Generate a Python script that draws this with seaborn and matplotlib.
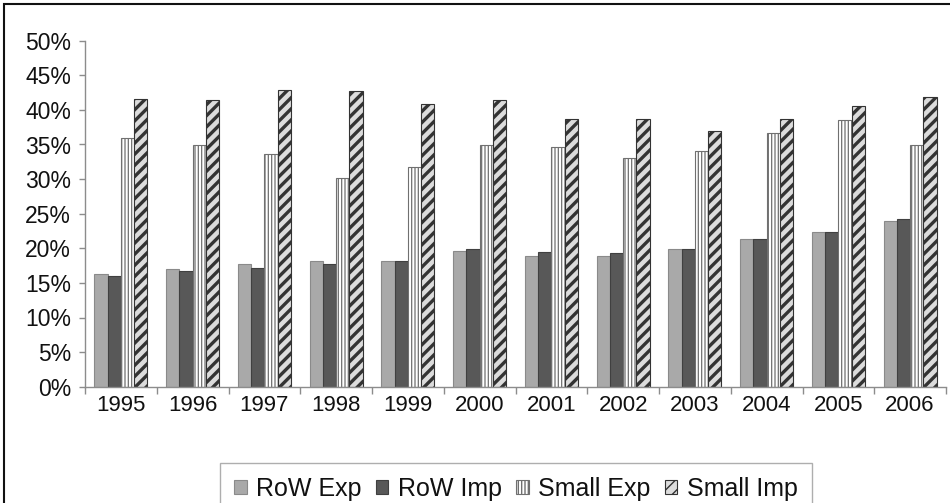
import matplotlib
matplotlib.use("Agg")
import matplotlib.pyplot as plt
from matplotlib.patches import Rectangle
from matplotlib.ticker import PercentFormatter, FixedLocator
import numpy as np
import pandas as pd
import seaborn as sns

years = ["1995", "1996", "1997", "1998", "1999", "2000",
         "2001", "2002", "2003", "2004", "2005", "2006"]
row_exp = [16.3, 17.0, 17.8, 18.1, 18.1, 19.6, 18.9, 18.9, 19.9, 21.3, 22.4, 24.0]
row_imp = [16.0, 16.7, 17.2, 17.8, 18.1, 19.9, 19.4, 19.3, 19.9, 21.3, 22.4, 24.2]
small_exp = [35.9, 35.0, 33.6, 30.1, 31.8, 34.9, 34.6, 33.0, 34.1, 36.7, 38.5, 34.9]
small_imp = [41.6, 41.4, 42.9, 42.8, 40.8, 41.4, 38.7, 38.7, 37.0, 38.7, 40.5, 41.9]
series = ["RoW Exp", "RoW Imp", "Small Exp", "Small Imp"]

frames = []
for name, vals in zip(series, [row_exp, row_imp, small_exp, small_imp]):
    frames.append(pd.DataFrame({"year": years, "series": name,
                                "share": np.array(vals) / 100.0}))
df = pd.concat(frames, ignore_index=True)

sns.set_theme(style="white")
plt.rcParams["font.family"] = ["Liberation Sans", "DejaVu Sans"]
plt.rcParams["hatch.linewidth"] = 1.0

W, H = 950, 503
fig = plt.figure(figsize=(W / 100, H / 100), dpi=100)
ax = fig.add_axes([85 / W, 1 - 386.7 / H, (946 - 85) / W, (386.7 - 40.7) / H])

faces = ["#a9a9a9", "#585858", "#ffffff", "#dcdcdc"]
sns.barplot(data=df, x="year", y="share", hue="series", hue_order=series,
            palette=faces, width=0.74, gap=0, saturation=1, ax=ax,
            legend=False, err_kws={"linewidth": 0})

styles = [
    dict(hatch=None, edgecolor="#8a8a8a", hlw=1.0),
    dict(hatch=None, edgecolor="#404040", hlw=1.0),
    dict(hatch="|||||", edgecolor="#707070", hlw=0.9),
    dict(hatch="///", edgecolor="#333333", hlw=2.4),
]
for cont, st in zip(ax.containers, styles):
    for bar in cont:
        bar.set_edgecolor(st["edgecolor"])
        bar.set_linewidth(0.8)
        if st["hatch"]:
            bar.set_hatch(st["hatch"])
            if hasattr(bar, "set_hatch_linewidth"):
                bar.set_hatch_linewidth(st["hlw"])

ax.set_ylim(0, 0.5)
ax.set_xlim(-0.5, len(years) - 0.5)
ax.set_yticks(np.arange(0, 0.51, 0.05))
ax.yaxis.set_major_formatter(PercentFormatter(1.0, decimals=0))
ax.set_xlabel("")
ax.set_ylabel("")

for side in ["top", "right"]:
    ax.spines[side].set_visible(False)
for side in ["left", "bottom"]:
    ax.spines[side].set_color("#8c8c8c")
    ax.spines[side].set_linewidth(1.0)

ax.tick_params(axis="y", which="major", length=4, width=1, color="#8c8c8c",
               direction="out", labelsize=16.5, pad=6, left=True)
ax.tick_params(axis="x", which="major", length=0, labelsize=16, pad=6)
ax.xaxis.set_minor_locator(FixedLocator(np.arange(-0.5, len(years), 1.0)))
ax.tick_params(axis="x", which="minor", length=5, width=1, color="#8c8c8c",
               direction="out", bottom=True)
for lab in ax.get_xticklabels() + ax.get_yticklabels():
    lab.set_color("#111111")

# legend built from the bar containers
handles = [cont.patches[0] for cont in ax.containers]
leg_x = 516 / W
leg_top_px = 463
leg = fig.legend(handles, series, loc="upper center",
                 bbox_to_anchor=(leg_x, 1 - leg_top_px / H), ncol=4,
                 frameon=True, fontsize=18, handlelength=0.5, handleheight=0.5,
                 handletextpad=0.4, columnspacing=0.55, borderpad=0.55,
                 borderaxespad=0, fancybox=False)
leg.get_frame().set_edgecolor("#9a9a9a")
leg.get_frame().set_linewidth(1.0)
for txt in leg.get_texts():
    txt.set_color("#111111")

# put the top edge of the legend frame at the intended pixel row
fig.canvas.draw()
bb = leg.get_window_extent(fig.canvas.get_renderer())
dy = (H - leg_top_px) - bb.y1
leg.set_bbox_to_anchor((leg_x, 1 - leg_top_px / H + dy / H), transform=fig.transFigure)

# outer frame of the figure
fig.add_artist(Rectangle((4 / W, -0.1), 1.2, 1 - 4 / H + 0.1,
                         transform=fig.transFigure, fill=False,
                         edgecolor="#111111", linewidth=1.5))

fig.savefig("out.png", dpi=100)
